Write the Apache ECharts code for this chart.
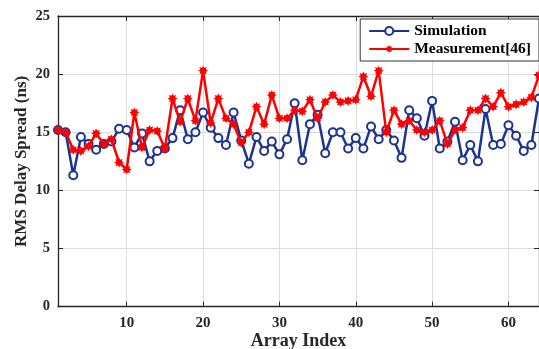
<!DOCTYPE html>
<html><head><meta charset="utf-8">
<script src="https://cdn.jsdelivr.net/npm/echarts@6/dist/echarts.min.js"></script>
<style>html,body{margin:0;padding:0;background:#fff}#c{width:539px;height:349px}</style>
</head><body><div id="c"></div>
<script>
const xTicks = [10, 20, 30, 40, 50, 60];
const yTicks = [0, 5, 10, 15, 20, 25];
const simulation = [15.2,15.0,11.3,14.6,14.0,13.5,14.0,14.2,15.3,15.2,13.7,14.9,12.5,13.4,13.6,14.5,16.9,14.4,15.0,16.7,15.4,14.5,13.9,16.7,14.3,12.3,14.6,13.4,14.2,13.1,14.4,17.5,12.6,15.7,16.5,13.2,15.0,15.0,13.6,14.5,13.6,15.5,14.4,15.2,14.3,12.8,16.9,16.2,14.7,17.7,13.6,14.2,15.9,12.6,13.9,12.5,17.0,13.9,14.0,15.6,14.7,13.4,13.9,17.9];
const measurement = [15.2,15.0,13.5,13.4,13.8,14.9,14.0,14.4,12.4,11.8,16.7,13.7,15.2,15.1,13.6,17.9,15.9,17.9,16.0,20.3,15.8,17.9,16.2,15.7,14.1,15.0,17.2,15.7,18.2,16.2,16.2,16.9,16.8,17.8,16.2,17.6,18.2,17.6,17.7,17.8,19.8,18.1,20.3,15.0,16.9,15.7,16.0,15.2,15.0,15.2,16.0,14.0,15.2,15.4,16.9,16.9,17.9,17.2,18.4,17.2,17.4,17.6,18.0,19.9];
const seriesNames = ['Simulation', 'Measurement[46]'];
const idx = simulation.map((_, i) => i + 1);

function starPath(n, ro, ri) {
  let d = '';
  for (let k = 0; k < 2 * n; k++) {
    const r = k % 2 === 0 ? ro : ri;
    const a = Math.PI * k / n - Math.PI / 2;
    d += (k === 0 ? 'M' : 'L') + (r * Math.cos(a)).toFixed(3) + ',' + (r * Math.sin(a)).toFixed(3);
  }
  return 'path://' + d + 'Z';
}
const asterisk = starPath(8, 10, 6);

const font = 'Liberation Serif';
const chart = echarts.init(document.getElementById('c'));
chart.setOption({
  animation: false,
  backgroundColor: '#fff',
  grid: { left: 58, right: 0, top: 16, bottom: 42.3, containLabel: false, outerBoundsMode: 'none' },
  legend: {
    orient: 'vertical', right: 0, top: 19,
    backgroundColor: '#fff', borderColor: '#333', borderWidth: 1,
    padding: [4, 8, 4, 8], itemGap: 2, itemWidth: 40, itemHeight: 10,
    textStyle: { fontFamily: font, fontWeight: 'bold', fontSize: 15.5, color: '#000' },
    data: seriesNames
  },
  xAxis: [{
    type: 'value', min: 1, max: 64,
    name: 'Array Index', nameLocation: 'middle', nameGap: 26, nameMoveOverlap: false,
    nameTextStyle: { fontFamily: font, fontWeight: 'bold', fontSize: 18, color: '#262626' },
    axisLine: { show: true, onZero: false, lineStyle: { color: '#262626', width: 1.3 } },
    axisTick: { show: true, inside: true, length: 5, customValues: xTicks, lineStyle: { color: '#262626' } },
    axisLabel: { customValues: xTicks, fontFamily: font, fontWeight: 'bold', fontSize: 15, color: '#262626', margin: 9 },
    splitLine: { show: true, lineStyle: { color: '#dcdcdc', width: 1 } }
  }, {
    type: 'value', min: 1, max: 64, position: 'top',
    axisLine: { show: true, onZero: false, lineStyle: { color: '#262626', width: 1.3 } },
    axisTick: { show: true, inside: true, length: 5, customValues: xTicks, lineStyle: { color: '#262626' } },
    axisLabel: { show: false }, splitLine: { show: false }
  }],
  yAxis: [{
    type: 'value', min: 0, max: 25, interval: 5,
    name: 'RMS Delay Spread (ns)', nameLocation: 'middle', nameGap: 28, nameMoveOverlap: false,
    nameTextStyle: { fontFamily: font, fontWeight: 'bold', fontSize: 17, color: '#262626' },
    axisLine: { show: true, lineStyle: { color: '#262626', width: 1.3 } },
    axisTick: { show: true, inside: true, length: 5, lineStyle: { color: '#262626' } },
    axisLabel: { fontFamily: font, fontWeight: 'bold', fontSize: 14.5, color: '#262626', margin: 8 },
    splitLine: { show: true, lineStyle: { color: '#dcdcdc', width: 1 } }
  }, {
    type: 'value', min: 0, max: 25, interval: 5, position: 'right',
    axisLine: { show: true, lineStyle: { color: '#262626', width: 1.3 } },
    axisTick: { show: true, inside: true, length: 5, lineStyle: { color: '#262626' } },
    axisLabel: { show: false }, splitLine: { show: false }
  }],
  series: [{
    name: seriesNames[0], type: 'line',
    data: idx.map((x, i) => [x, simulation[i]]),
    symbol: 'circle', symbolSize: 8, showAllSymbol: true,
    lineStyle: { color: '#1c3391', width: 2.5 },
    itemStyle: { color: '#fff', borderColor: '#1c3391', borderWidth: 2 },
    z: 2
  }, {
    name: seriesNames[1], type: 'line',
    data: idx.map((x, i) => [x, measurement[i]]),
    symbol: asterisk, symbolSize: 10, showAllSymbol: true,
    lineStyle: { color: '#ff0000', width: 2.5 },
    itemStyle: { color: '#ff0000', borderColor: '#ff0000', borderWidth: 0 },
    z: 3
  }]
});
</script></body></html>
